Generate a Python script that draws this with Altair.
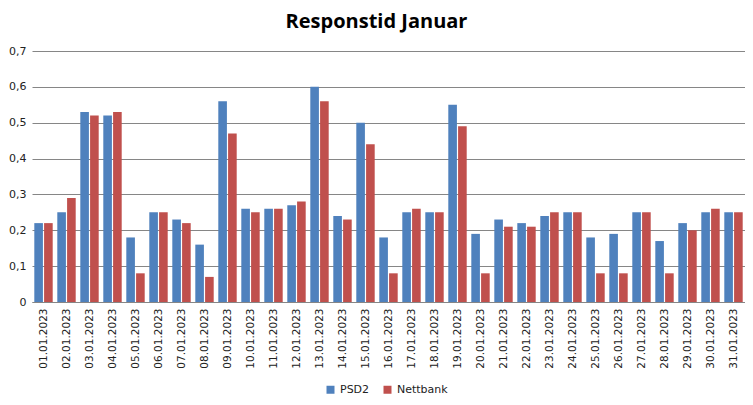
import altair as alt
import pandas as pd

dates = [f"{d:02d}.01.2023" for d in range(1, 32)]
psd2 = [0.22, 0.25, 0.53, 0.52, 0.18, 0.25, 0.23, 0.16, 0.56, 0.26, 0.26, 0.27, 0.60, 0.24, 0.50, 0.18,
        0.25, 0.25, 0.55, 0.19, 0.23, 0.22, 0.24, 0.25, 0.18, 0.19, 0.25, 0.17, 0.22, 0.25, 0.25]
nettbank = [0.22, 0.29, 0.52, 0.53, 0.08, 0.25, 0.22, 0.07, 0.47, 0.25, 0.26, 0.28, 0.56, 0.23, 0.44, 0.08,
            0.26, 0.25, 0.49, 0.08, 0.21, 0.21, 0.25, 0.25, 0.08, 0.08, 0.25, 0.08, 0.20, 0.26, 0.25]
series = ["PSD2", "Nettbank"]
colors = ["#4F81BD", "#C0504D"]

rows = []
for i, d in enumerate(dates):
    rows.append({"Dato": d, "Serie": series[0], "Verdi": psd2[i]})
    rows.append({"Dato": d, "Serie": series[1], "Verdi": nettbank[i]})
df = pd.DataFrame(rows)

chart = alt.Chart(df).mark_bar().encode(
    x=alt.X("Dato:N", sort=dates, title=None,
            scale=alt.Scale(paddingInner=0.2, paddingOuter=0.1),
            axis=alt.Axis(labelAngle=270, labelFont="DejaVu Sans", labelFontSize=10.5,
                          labelColor="#222222", labelPadding=6, ticks=False,
                          domainColor="#868686", grid=False, labelBaseline="middle",
                          labelAlign="right")),
    xOffset=alt.XOffset("Serie:N", sort=series, scale=alt.Scale(paddingInner=0.12, paddingOuter=0)),
    y=alt.Y("Verdi:Q", title=None,
            scale=alt.Scale(domain=[0, 0.7], nice=False),
            axis=alt.Axis(values=[0, 0.1, 0.2, 0.3, 0.4, 0.5, 0.6, 0.7],
                          labelExpr="datum.value == 0 ? '0' : replace(format(datum.value, '.1f'), '.', ',')",
                          labelFont="DejaVu Sans", labelFontSize=11, labelColor="#222222",
                          ticks=False, domain=False, labelPadding=6,
                          gridColor="#868686", gridWidth=1)),
    color=alt.Color("Serie:N", sort=series, scale=alt.Scale(domain=series, range=colors),
                    legend=alt.Legend(title=None, orient="none", direction="horizontal",
                                      legendX=293, legendY=333, symbolType="square",
                                      symbolSize=64, symbolStrokeWidth=0,
                                      labelFont="DejaVu Sans", labelFontSize=11,
                                      labelColor="#222222", columnPadding=12)),
).properties(
    width=713,
    height=251,
    title=alt.Title("Responstid Januar", font="Open Sans", fontSize=20, fontWeight="bold",
                    color="#000000", anchor="middle", offset=13, dx=-12),
    padding={"left": 24, "top": 43, "right": 0, "bottom": 95},
    autosize=alt.AutoSizeParams(type="none"),
).configure_view(stroke=None)

chart.save("out.html", embed_options={"renderer": "svg", "actions": False})
